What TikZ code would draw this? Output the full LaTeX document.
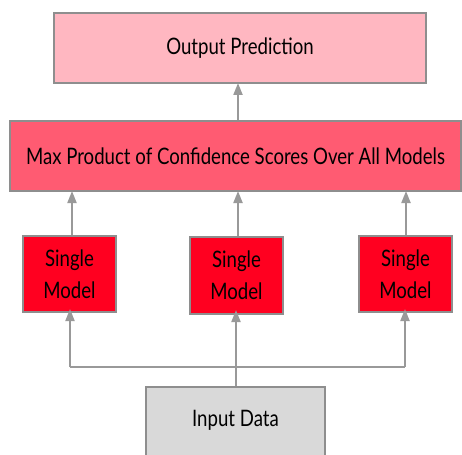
\documentclass[tikz,border=0pt]{standalone}
\usepackage{fontspec}
\setmainfont[FakeStretch=0.82]{Lato}
\usetikzlibrary{arrows.meta}
\definecolor{bordergray}{HTML}{8E8E8E}
\definecolor{arrowgray}{HTML}{999999}
\definecolor{outpink}{HTML}{FFB7C1}
\definecolor{maxred}{HTML}{FF5B72}
\definecolor{singlered}{HTML}{FF0020}
\definecolor{ingray}{HTML}{D9D9D9}
\tikzset{
  box/.style={draw=bordergray, line width=2pt, rectangle, inner sep=0pt, font=\fontsize{22.7}{32}\selectfont, align=center},
  conn/.style={draw=arrowgray, line width=2pt, -{Triangle[length=12pt,width=9pt]}},
  plainline/.style={draw=arrowgray, line width=2pt},
}
\begin{document}
\begin{tikzpicture}[x=1pt,y=-1pt]
\useasboundingbox (0,0) rectangle (462,454);
\node[box, fill=outpink, minimum width=372, minimum height=70] (out) at (240,48) {Output Prediction};
\node[box, fill=maxred, minimum width=451, minimum height=70] (max) at (235.5,156) {Max Product of Confidence Scores Over All Models};
\node[box, fill=singlered, minimum width=93, minimum height=76] (s1) at (69.5,274) {Single\\Model};
\node[box, fill=singlered, minimum width=93, minimum height=77] (s2) at (236.5,275.5) {Single\\Model};
\node[box, fill=singlered, minimum width=93, minimum height=76] (s3) at (405.5,274) {Single\\Model};
\node[box, fill=ingray, minimum width=179, minimum height=80] (in) at (235.5,427) {};
\node[font=\fontsize{22.7}{24}\selectfont, inner sep=0pt] (inlabel) at (235.5,420) {Input Data};
\coordinate (busL) at (70,367);
\coordinate (busR) at (405,367);
\coordinate (busM) at (236,367);
\draw[conn] (max.north -| 238,0) -- ([yshift=1pt]out.south -| 238,0);
\draw[conn] (s1.north -| 72,0) -- ([yshift=1pt]max.south -| 72,0);
\draw[conn] (s2.north -| 238,0) -- ([yshift=1pt]max.south -| 238,0);
\draw[conn] (s3.north -| 406,0) -- ([yshift=1pt]max.south -| 406,0);
\draw[plainline] (busL) -- (busR);
\draw[conn] (busL) -- ([yshift=4pt]s1.south -| busL);
\draw[conn] (busR) -- ([yshift=4pt]s3.south -| busR);
\draw[conn] (in.north -| busM) -- ([yshift=5pt]s2.south -| busM);
\end{tikzpicture}
\end{document}
